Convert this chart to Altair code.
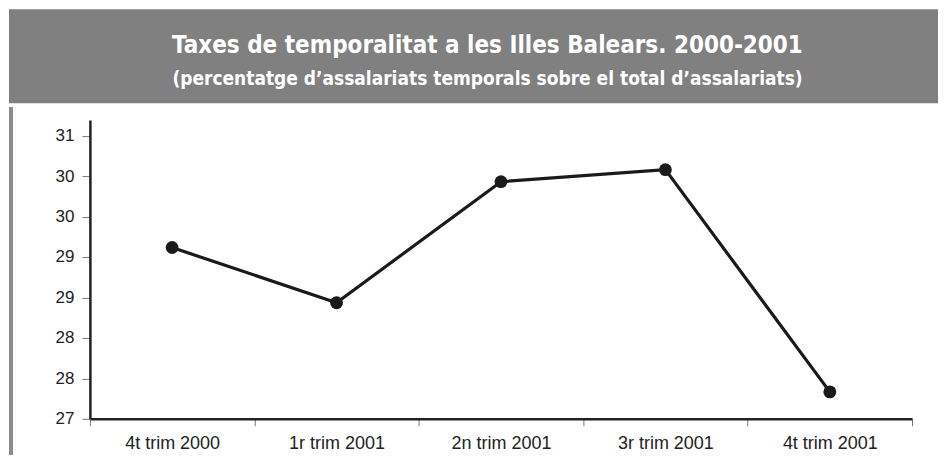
import altair as alt
import pandas as pd

title_text = "Taxes de temporalitat a les Illes Balears. 2000-2001"
subtitle_text = "(percentatge d\u2019assalariats temporals sobre el total d\u2019assalariats)"

quarters = ["4t trim 2000", "1r trim 2001", "2n trim 2001", "3r trim 2001", "4t trim 2001"]
rates = [29.42, 28.64, 30.35, 30.52, 27.38]
y_ticks = [27, 27.571, 28.143, 28.714, 29.286, 29.857, 30.429, 31]

df = pd.DataFrame({"q": quarters, "v": rates})

W_PLOT = 823
H_PLOT = 299
LEFT = 81          # distance from page content edge to plot area
TOP_W = 849        # top panel width (view), band extends LEFT px further left
TOP_H = 94

title_font = "'DejaVu Sans Condensed', 'Liberation Sans Narrow', Roboto, sans-serif"
axis_font = "Liberation Sans"

# --- title band ---
band = alt.Chart(pd.DataFrame({"t": [title_text]})).mark_rect(color="#808080").encode(
    x=alt.value(-LEFT), x2=alt.value(TOP_W), y=alt.value(0), y2=alt.value(TOP_H)
)
t1 = alt.Chart(pd.DataFrame({"t": [title_text]})).mark_text(
    font=title_font, fontWeight="bold", fontSize=24, color="white",
    align="center", baseline="middle"
).encode(text="t:N", x=alt.value(398), y=alt.value(37))
t2 = alt.Chart(pd.DataFrame({"t": [subtitle_text]})).mark_text(
    font=title_font, fontWeight="bold", fontSize=19, color="white",
    align="center", baseline="middle"
).encode(text="t:N", x=alt.value(398), y=alt.value(70))
top = alt.layer(band, t1, t2).properties(
    width=TOP_W, height=TOP_H,
    view=alt.ViewBackground(stroke="transparent")
)

# --- line chart ---
x_enc = alt.X(
    "q:N", sort=quarters, title=None,
    scale=alt.Scale(type="band", paddingInner=0, paddingOuter=0),
    axis=alt.Axis(
        tickBand="extent", labelAngle=0, labelFont=axis_font, labelFontSize=18,
        labelColor="#222222", labelPadding=9, tickSize=7, tickColor="#777777",
        tickWidth=1, domainColor="#222222", domainWidth=2.5, grid=False
    ),
)
y_enc = alt.Y(
    "v:Q", title=None,
    scale=alt.Scale(domain=[27, 31.22], nice=False, zero=False),
    axis=alt.Axis(
        values=y_ticks, format=".0f", labelFont=axis_font, labelFontSize=17,
        labelColor="#222222", labelPadding=8, tickSize=8, tickColor="#777777",
        tickWidth=1, domainColor="#222222", domainWidth=2.5, grid=False
    ),
)

base = alt.Chart(df)
line = base.mark_line(color="#1a1a1a", strokeWidth=3.2).encode(x=x_enc, y=y_enc)
pts = base.mark_circle(color="#1a1a1a", size=165, opacity=1).encode(x=x_enc, y=y_enc)
border = base.mark_rule(color="#8c8c8c", strokeWidth=4).encode(
    x=alt.value(-LEFT + 2), y=alt.value(-13), y2=alt.value(H_PLOT + 36)
)

bottom = alt.layer(border, line, pts).properties(
    width=W_PLOT, height=H_PLOT,
    view=alt.ViewBackground(fill="white", stroke="transparent")
)

chart = alt.vconcat(top, bottom, spacing=0).properties(
    padding=0, background="white"
).configure_view(stroke="transparent")

chart.save("out.html", embed_options={"renderer": "svg", "actions": False})
